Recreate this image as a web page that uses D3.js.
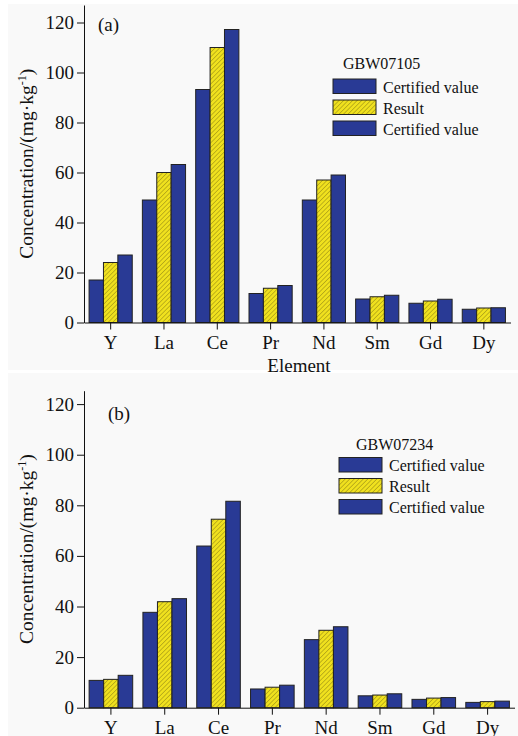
<!DOCTYPE html>
<html lang="en">
<head>
<meta charset="utf-8">
<title>REE concentrations</title>
<script src="https://cdn.jsdelivr.net/npm/d3@7"></script>
<style>
  body { margin: 0; background: #ffffff; }
  svg { display: block; font-family: "Liberation Serif", "Times New Roman", serif; }
  .axis path, .axis line { stroke: #111; stroke-width: 1; }
  .axis text { font-size: 19px; fill: #111; font-family: "Liberation Serif", serif; }
</style>
</head>
<body>
<script>
// Data
var elements = ["Y", "La", "Ce", "Pr", "Nd", "Sm", "Gd", "Dy"];
var seriesNames = ["Certified value", "Result", "Certified value"];
var yTicks = [0, 20, 40, 60, 80, 100, 120];

// (a) GBW07105
var certA1  = [17, 49, 93.2, 11.6, 49, 9.4, 7.7, 5.3];
var resultA = [24, 60, 110, 13.7, 57, 10.3, 8.6, 5.8];
var certA2  = [27, 63.2, 117.2, 14.8, 59, 10.9, 9.3, 5.9];

// (b) GBW07234
var certB1  = [10.8, 37.7, 63.9, 7.4, 26.9, 4.7, 3.3, 2.1];
var resultB = [11.2, 41.9, 74.5, 8.1, 30.6, 5.0, 3.8, 2.4];
var certB2  = [12.8, 43.1, 81.6, 8.9, 32.0, 5.5, 4.0, 2.6];

var w = 518, h = 736;
var blue = "#293a95", yellow = "#f0e11e";

var svg = d3.select("body").append("svg")
  .attr("width", w)
  .attr("height", h);

// hatch for the "Result" bars
var defs = svg.append("defs");
var pat = defs.append("pattern")
  .attr("id", "hatch")
  .attr("patternUnits", "userSpaceOnUse")
  .attr("width", 3.2)
  .attr("height", 3.2)
  .attr("patternTransform", "rotate(45)");
pat.append("rect").attr("width", 3.2).attr("height", 3.2).attr("fill", yellow);
pat.append("line")
  .attr("x1", 0).attr("y1", 0).attr("x2", 0).attr("y2", 3.2)
  .attr("stroke", "#8f8214").attr("stroke-width", 1);

var fills = [blue, "url(#hatch)", blue];

function drawPanel(p) {
  // light grey panel background
  svg.append("rect")
    .attr("x", 8).attr("y", p.bgTop)
    .attr("width", w - 8).attr("height", p.bgBottom - p.bgTop)
    .attr("fill", "#f9f9f9");

  var x0 = d3.scaleBand()
    .domain(elements)
    .range([84, p.xEnd])
    .paddingInner(0.19)
    .paddingOuter(0.095);

  var x1 = d3.scaleBand()
    .domain(d3.range(p.series.length))
    .range([0, x0.bandwidth()]);

  var y = d3.scaleLinear()
    .domain([0, p.yMax])
    .range([p.y0, p.yTop]);

  // bars
  p.series.forEach(function(vals, s) {
    svg.append("g").selectAll("rect")
      .data(vals)
      .enter()
      .append("rect")
      .attr("x", function(d, i) { return x0(elements[i]) + x1(s); })
      .attr("y", function(d) { return y(d); })
      .attr("width", x1.bandwidth())
      .attr("height", function(d) { return y(0) - y(d); })
      .attr("fill", fills[s])
      .attr("stroke", "#222")
      .attr("stroke-width", 1);
  });

  // x axis
  var gx = svg.append("g")
    .attr("class", "axis")
    .attr("transform", "translate(0," + p.y0 + ")")
    .call(d3.axisBottom(x0).tickSize(7).tickSizeOuter(0));
  gx.selectAll("text").attr("y", 26.5).attr("dy", null);

  // y axis
  var gy = svg.append("g")
    .attr("class", "axis")
    .attr("transform", "translate(84,0)")
    .call(d3.axisLeft(y).tickValues(yTicks).tickSize(7).tickSizeOuter(0));
  gy.selectAll("text").attr("x", -10);

  // y title
  var yt = svg.append("text")
    .attr("transform", "translate(33," + ((p.y0 + p.yTop) / 2) + ") rotate(-90)")
    .attr("text-anchor", "middle")
    .attr("font-size", "19.5px")
    .attr("fill", "#111");
  yt.append("tspan").text("Concentration/(mg\u00b7kg");
  yt.append("tspan").attr("dy", -7).attr("font-size", "12px").text("-1");
  yt.append("tspan").attr("dy", 7).text(")");

  // panel tag
  svg.append("text")
    .attr("x", p.tagX).attr("y", p.tagY)
    .attr("font-size", "19px")
    .attr("fill", "#111")
    .text(p.tag);

  // legend
  var lg = svg.append("g");
  lg.append("text")
    .attr("x", p.legTitleX).attr("y", p.legTitleY)
    .attr("font-size", "16px").attr("fill", "#111")
    .text(p.legTitle);
  seriesNames.forEach(function(name, i) {
    var ry = p.legY + i * 21;
    lg.append("rect")
      .attr("x", p.legX).attr("y", ry)
      .attr("width", 43).attr("height", 14.5)
      .attr("fill", fills[i])
      .attr("stroke", "#222").attr("stroke-width", 1);
    lg.append("text")
      .attr("x", p.legX + 50).attr("y", ry + 13.5)
      .attr("font-size", "16px").attr("fill", "#111")
      .text(name);
  });

  if (p.xTitle) {
    svg.append("text")
      .attr("x", 299).attr("y", p.y0 + 49.5)
      .attr("text-anchor", "middle")
      .attr("font-size", "19px").attr("fill", "#111")
      .text(p.xTitle);
  }
}

drawPanel({
  series: [certA1, resultA, certA2],
  bgTop: 4, bgBottom: 370,
  xEnd: 510.5, y0: 322.5, yTop: 5, yMax: 127,
  tag: "(a)", tagX: 98, tagY: 31,
  legTitle: "GBW07105", legTitleX: 343, legTitleY: 69,
  legX: 333, legY: 79,
  xTitle: "Element"
});

drawPanel({
  series: [certB1, resultB, certB2],
  bgTop: 373, bgBottom: 736,
  xEnd: 514.5, y0: 707.7, yTop: 390.7, yMax: 125.3,
  tag: "(b)", tagX: 108, tagY: 420,
  legTitle: "GBW07234", legTitleX: 356, legTitleY: 450,
  legX: 339, legY: 457.5,
  xTitle: null
});
</script>
</body>
</html>
